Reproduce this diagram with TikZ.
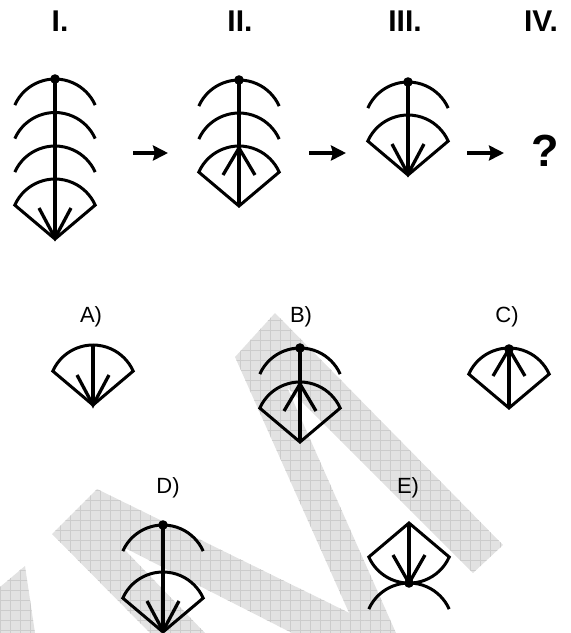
\documentclass[tikz,border=0pt]{standalone}
\usepackage{fontspec}
\setmainfont{Liberation Sans}
\usetikzlibrary{arrows.meta}
\definecolor{wmfill}{RGB}{226,226,226}
\definecolor{wmline}{RGB}{204,204,204}
\newcommand\hump[2]{\draw[arcln] ({#1-40.2},{#2+26.1}) arc[start angle=204,end angle=336,radius=44];}
\newcommand\fandown[2]{\draw[fanln] (#1,{#2+60}) -- ({#1-40.2},{#2+26.1}) arc[start angle=204,end angle=336,radius=44] -- cycle;}
\newcommand\vdown[2]{\draw[vln] ({#1-16},{#2-30}) -- (#1,#2) -- ({#1+16},{#2-30});}
\newcommand\vup[2]{\draw[vln] ({#1-16},{#2+27}) -- (#1,#2) -- ({#1+16},{#2+27});}
\newcommand\topdot[2]{\fill (#1,#2) circle[radius=4.8];}
\newcommand\wmshape[1]{\begin{scope}\clip #1;
  \fill[wmfill] (0,0) rectangle (571,633);
  \draw[wmline,line width=0.7pt] \foreach \i in {0,10,...,570}{(\i,0) -- (\i,633)} \foreach \j in {0,10,...,630}{(0,\j) -- (571,\j)};
  \end{scope}}
\begin{document}
\begin{tikzpicture}[x=1pt,y=-1pt,
  arcln/.style={line width=3pt},
  fanln/.style={line width=3pt,line join=miter},
  vln/.style={line width=3.3pt,line join=miter},
  spine/.style={line width=4.4pt},
  thinspine/.style={line width=3.2pt},
  arr/.style={line width=4.5pt,-{Stealth[length=15pt,width=15pt,inset=2pt]}},
  roman/.style={font=\fontsize{30}{34}\selectfont\bfseries,anchor=base,inner sep=0pt},
  opt/.style={font=\fontsize{22}{26}\selectfont,anchor=base,inner sep=0pt}]
\useasboundingbox (0,0) rectangle (571,633);
% watermark
\wmshape{(235,357) -- (275,313) -- (503,545) -- (473,573) -- (287,387) -- (396,633) -- (358,633) -- cycle}
\wmshape{(52,534) -- (97,489) -- (380,628) -- (385,633) -- (292,633) -- (121,546) -- (205,633) -- (150,633) -- cycle}
\wmshape{(25,566) -- (35,633) -- (0,633) -- (0,587) -- cycle}
% headings
\node[roman] (hI) at (60,31) {I.};
\node[roman] (hII) at (240,31) {II.};
\node[roman] (hIII) at (405,31) {III.};
\node[roman] (hIV) at (541,31) {IV.};
\node[font=\fontsize{45}{50}\selectfont\bfseries,anchor=base,inner sep=0pt] (q) at (545,166) {?};
% arrows
\coordinate (a1s) at (133,153); \coordinate (a1e) at (168,153);
\coordinate (a2s) at (309,153); \coordinate (a2e) at (346,153);
\coordinate (a3s) at (467,153); \coordinate (a3e) at (504,153);
\draw[arr] (a1s) -- (a1e);
\draw[arr] (a2s) -- (a2e);
\draw[arr] (a3s) -- (a3e);
% Figure I
\hump{55}{79}\hump{55}{112.5}\hump{55}{146}
\fandown{55}{179}
\draw[spine] (55,79) -- (55,239);
\vdown{55}{238}
\topdot{55}{79}
% Figure II
\hump{239}{80}\hump{239}{113}
\fandown{239}{146}
\draw[spine] (239,80) -- (239,206);
\vup{239}{148}
\topdot{239}{80}
% Figure III
\hump{408}{82}
\fandown{408}{115}
\draw[spine] (408,82) -- (408,175);
\vdown{408}{174}
\topdot{408}{82}
% options labels
\node[opt] (lA) at (91,322) {A)};
\node[opt] (lB) at (301,322) {B)};
\node[opt] (lC) at (507,322) {C)};
\node[opt] (lD) at (168,493) {D)};
\node[opt] (lE) at (408,493) {E)};
% A
\fandown{93}{345}
\draw[thinspine] (93,345) -- (93,405);
\vdown{93}{405}
% B
\hump{300}{348}
\fandown{300}{382}
\draw[spine] (300,348) -- (300,442);
\vup{300}{384}
\topdot{300}{348}
% C
\fandown{509}{348}
\draw[thinspine] (509,349) -- (509,408);
\vup{509}{349}
\topdot{509}{349}
% D
\hump{163}{525}
\fandown{163}{572}
\draw[spine] (163,525) -- (163,632);
\vdown{163}{631}
\topdot{163}{525}
% E
\draw[fanln] (409,523) -- (449.2,557) arc[start angle=24,end angle=156,radius=44] -- cycle;
\draw[spine] (409,523) -- (409,583);
\draw[vln] (393,555) -- (409,583) -- (425,555);
\hump{409}{583}
\topdot{409}{583}
\end{tikzpicture}
\end{document}
